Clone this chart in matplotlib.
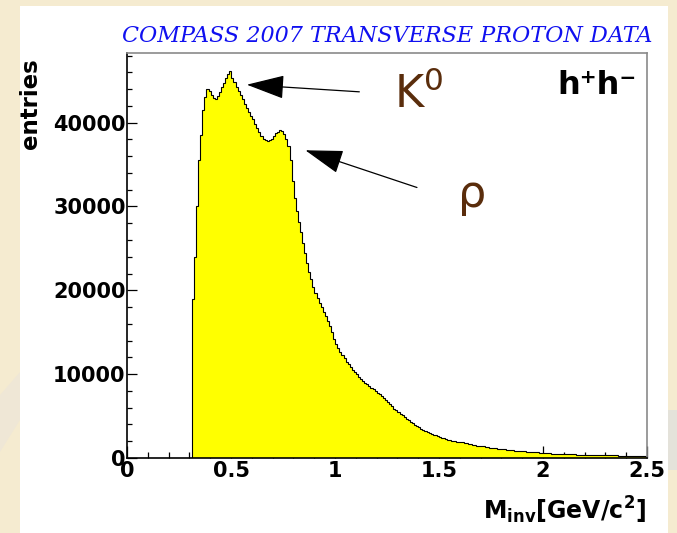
import numpy as np
import matplotlib
matplotlib.use("Agg")
import matplotlib.pyplot as plt
from matplotlib.patches import Rectangle, Polygon, FancyArrowPatch

# ---- data ----
# fine bins of width 0.01 from 0.31 to 1.60
fine_counts = [19000, 24000, 30000, 35500, 38500, 41500, 43000, 44000, 43800,
               43300, 42900, 42800, 43200, 43700, 44200, 44700, 45300, 45800,
               46100, 45300, 44800, 44200, 43800, 43300, 42800, 42200, 41700,
               41300, 40800, 40400, 39800, 39300, 38900, 38400, 38100, 37900,
               37800, 37900, 38100, 38400, 38700, 38900, 39100, 39000, 38600,
               38000, 37200, 35500, 33000, 31000, 29500, 28200, 26900, 25600,
               24400, 23300, 22200, 21300, 20400, 19700, 19100, 18500, 18000,
               17400, 16900, 16300, 15700, 15000, 14200,
               13600, 13100, 12700, 12300, 11900, 11500, 11200, 10800, 10500,
               10200, 10000, 9700, 9450, 9200, 9000, 8800, 8600, 8400, 8200,
               8000, 7800, 7600, 7400, 7150, 6900, 6650, 6400, 6150, 5900,
               5700, 5500, 5300, 5100, 4900, 4700, 4500, 4300, 4120, 3950,
               3800, 3650, 3500, 3350, 3220, 3100, 3000, 2900, 2800, 2700,
               2600, 2500, 2420, 2350, 2270, 2200, 2120, 2050, 2000, 1950,
               1900]
# coarse bins of width 0.02 from 1.60 to 2.50
coarse_counts = [1850, 1750, 1650, 1550, 1450, 1380, 1300, 1230, 1160, 1100,
                 1040, 990, 930, 880, 830, 790, 740, 700, 660, 620, 590, 560,
                 530, 510, 490, 470, 450, 430, 410, 395, 380, 365, 350, 340,
                 330, 320, 310, 300, 295, 290, 285, 280, 275, 270, 265]
x_ticks = [0, 0.5, 1, 1.5, 2, 2.5]
x_tick_labels = ["0", "0.5", "1", "1.5", "2", "2.5"]
y_ticks = [0, 10000, 20000, 30000, 40000]
y_tick_labels = ["0", "10000", "20000", "30000", "40000"]

counts = np.array(fine_counts + coarse_counts, dtype=float)
edges = np.concatenate([np.linspace(0.312, 1.60, len(fine_counts) + 1),
                        np.linspace(1.60, 2.50, len(coarse_counts) + 1)[1:]])

W, H = 677, 533
fig = plt.figure(figsize=(W / 100, H / 100), dpi=100)
fig.patch.set_facecolor('#F5EBD0')

# decorative background swirl and white panel
fig.add_artist(Polygon([(0, (H - 395) / H), (20 / W, (H - 372) / H),
                        (20 / W, (H - 420) / H), (0, (H - 452) / H)],
                       closed=True, transform=fig.transFigure,
                       facecolor='#EFE7D6', edgecolor='none', zorder=0))
fig.add_artist(Rectangle((668 / W, (H - 470) / H), 9 / W, 60 / H,
                         transform=fig.transFigure, facecolor='#E4E2DA',
                         edgecolor='none', zorder=0))
fig.add_artist(Rectangle((20 / W, 0), (668 - 20) / W, (H - 6) / H,
                         transform=fig.transFigure, facecolor='white',
                         edgecolor='none', zorder=0))

ax = fig.add_axes([127 / W, (H - 458) / H, (647 - 127) / W, (458 - 53) / H])
ax.set_facecolor('white')

ax.stairs(counts, edges, fill=True, color='#FFFF00', zorder=2)
ax.stairs(counts, edges, fill=False, color='black', linewidth=0.8, zorder=3)

ax.set_xlim(0, 2.5)
ax.set_ylim(0, 48300)

ax.set_xticks(x_ticks)
ax.set_xticklabels(x_tick_labels)
ax.set_xticks(np.arange(0, 2.5001, 0.1), minor=True)
ax.set_yticks(y_ticks)
ax.set_yticklabels(y_tick_labels)
ax.set_yticks(np.arange(0, 48001, 2000), minor=True)

ax.tick_params(axis='x', which='major', direction='in', length=8.6, width=0.9,
               pad=2.5, labelsize=15, top=False)
ax.tick_params(axis='x', which='minor', direction='in', length=4.3, width=0.9,
               top=False)
ax.tick_params(axis='y', which='major', direction='in', length=7.2, width=0.9,
               pad=1, labelsize=15, right=False)
ax.tick_params(axis='y', which='minor', direction='in', length=3.6, width=0.9,
               right=False)
for lab in ax.get_xticklabels() + ax.get_yticklabels():
    lab.set_fontweight('bold')
    lab.set_family('DejaVu Sans')

for s in ['left', 'bottom']:
    ax.spines[s].set_color('black')
    ax.spines[s].set_linewidth(1.2)
for s in ['top', 'right']:
    ax.spines[s].set_color('#8a8a8a')
    ax.spines[s].set_linewidth(1.2)
for s in ax.spines.values():
    s.set_zorder(5)

# title
fig.text(387 / W, (H - 36) / H, 'COMPASS 2007 TRANSVERSE PROTON DATA',
         ha='center', va='center', fontsize=16, style='italic',
         family='DejaVu Serif', color='#1010F0')

# axis titles
fig.text(30 / W, (H - 58) / H, 'entries', rotation=90, ha='center', va='top',
         fontsize=16.5, fontweight='bold', family='DejaVu Sans', color='black')
fig.text(646 / W, (H - 519) / H, r'M$_{\mathbf{inv}}$[GeV/c$^{\mathbf{2}}$]',
         ha='right', va='baseline', fontsize=17, fontweight='bold',
         family='DejaVu Sans', color='black')

# annotations
brown = '#5A2D0C'
ax.text(1.286, 41790, r'K$^{0}$', fontsize=32, color=brown, ha='left',
        va='baseline', family='DejaVu Sans')
ax.text(1.59, 29880, '\u03c1', fontsize=32, color=brown, ha='left',
        va='baseline', family='DejaVu Sans')
ax.text(2.068, 43390, 'h\u207ah\u207b', fontsize=23,
        fontweight='bold', color='black', ha='left', va='baseline',
        family='DejaVu Sans')

style = "-|>,head_length=24,head_width=7.5"
ax.add_patch(FancyArrowPatch((1.117, 43670), (0.576, 44520), arrowstyle=style,
                             mutation_scale=1, color='black', linewidth=0.9,
                             shrinkA=0, shrinkB=0, zorder=6))
ax.add_patch(FancyArrowPatch((1.394, 32260), (0.8575, 36700), arrowstyle=style,
                             mutation_scale=1, color='black', linewidth=0.9,
                             shrinkA=0, shrinkB=0, zorder=6))

fig.savefig('out.png', dpi=100, facecolor=fig.get_facecolor())
